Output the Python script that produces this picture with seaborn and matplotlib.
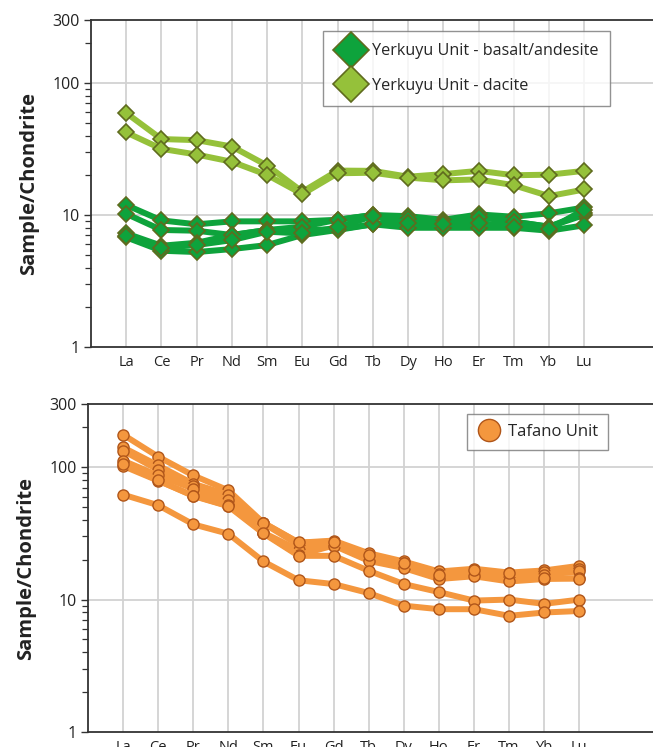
import pandas as pd
import matplotlib.pyplot as plt
import seaborn as sns
import numpy as np
from matplotlib.lines import Line2D
from matplotlib.ticker import LogLocator, NullFormatter, FixedLocator, FixedFormatter

#rare earth elements, chondrite normalised
elements = ['La', 'Ce', 'Pr', 'Nd', 'Sm', 'Eu', 'Gd', 'Tb', 'Dy', 'Ho', 'Er', 'Tm', 'Yb', 'Lu']

#Yerkuyu unit - basalt/andesite samples
ba_1 = [11.9, 9.1, 8.5, 8.95, 8.95, 8.95, 9.2, 10.0, 9.8, 9.2, 10.1, 9.7, 10.3, 11.4]
ba_2 = [10.2, 7.7, 7.6, 7.05, 7.7, 7.7, 7.8, 8.5, 9.2, 8.3, 9.6, 8.9, 8.15, 10.0]
ba_3 = [7.25, 5.85, 6.16, 7.05, 7.7, 8.15, 9.2, 10.0, 9.4, 8.9, 8.15, 8.9, 8.15, 10.3]
ba_4 = [6.77, 5.36, 5.24, 5.52, 5.92, 7.05, 7.7, 8.5, 8.0, 8.0, 8.0, 8.0, 7.6, 8.35]
ba_5 = [6.9, 5.65, 5.92, 6.45, 7.47, 7.25, 8.05, 9.8, 8.65, 8.5, 8.7, 8.15, 7.8, 11.0]

#Yerkuyu unit - dacite samples
dac_1 = [59.2, 37.6, 36.9, 33.0, 23.7, 15.0, 21.7, 21.6, 19.5, 20.4, 21.6, 20.0, 20.2, 21.6]
dac_2 = [42.2, 31.7, 28.7, 25.3, 20.1, 14.4, 20.7, 20.9, 19.2, 18.3, 18.6, 16.8, 13.9, 15.6]

#Tafano unit samples
taf_1 = [176, 120, 86.6, 66.8, 38.0, 26.9, 27.9, 22.4, 19.4, 16.3, 17.1, 16.0, 16.6, 18.0]
taf_2 = [141, 103, 75.0, 62.0, 37.6, 25.9, 26.3, 21.4, 18.8, 15.7, 16.1, 15.4, 16.1, 17.0]
taf_3 = [133, 95.5, 71.6, 56.2, 32.0, 23.7, 25.6, 20.5, 18.0, 15.0, 15.4, 14.5, 15.4, 16.3]
taf_4 = [112, 86.6, 68.8, 51.6, 32.0, 21.7, 25.6, 19.6, 17.3, 14.3, 15.0, 13.7, 14.3, 14.5]
taf_5 = [102, 79.0, 61.0, 51.0, 38.0, 27.0, 27.4, 21.8, 18.8, 15.4, 16.8, 15.8, 14.5, 14.4]
taf_6 = [106, 79.4, 60.6, 50.7, 31.6, 21.4, 21.4, 16.5, 13.1, 11.4, 9.83, 10.0, 9.28, 10.0]
taf_7 = [62.0, 51.6, 37.0, 31.4, 19.4, 14.0, 13.1, 11.2, 9.0, 8.46, 8.46, 7.54, 7.99, 8.2]


def to_long(samples):
    rows = []
    for name, vals in samples.items():
        for i, v in enumerate(vals):
            rows.append({'sample': name, 'pos': i, 'value': v})
    return pd.DataFrame(rows)


ba_df = to_long({'b1': ba_1, 'b2': ba_2, 'b3': ba_3, 'b4': ba_4, 'b5': ba_5})
dac_df = to_long({'d1': dac_1, 'd2': dac_2})
taf_df = to_long({'t1': taf_1, 't2': taf_2, 't3': taf_3, 't4': taf_4,
                  't5': taf_5, 't6': taf_6, 't7': taf_7})

sns.set_theme(style='white')
plt.rcParams['font.family'] = ['Open Sans', 'DejaVu Sans']

dark_green = '#0ea33c'
light_green = '#95c13a'
green_edge = '#5f6b1e'
orange = '#f4973e'
orange_edge = '#b0561a'
grid_c = '#d2d2d2'

fig = plt.figure(figsize=(6.53, 7.47), dpi=100)
ax1 = fig.add_axes([91 / 653, 1 - 347 / 747, 562 / 653, 327 / 747])
ax2 = fig.add_axes([88 / 653, 1 - 732 / 747, 565 / 653, 328 / 747])

#top chart, yerkuyu unit
sns.lineplot(data=dac_df, x='pos', y='value', units='sample', estimator=None, ax=ax1,
             color=light_green, lw=4.3, marker='D', markersize=8.5,
             markerfacecolor=light_green, markeredgecolor=green_edge, markeredgewidth=1.2, zorder=3)
sns.lineplot(data=ba_df, x='pos', y='value', units='sample', estimator=None, ax=ax1,
             color=dark_green, lw=4.3, marker='D', markersize=8.5,
             markerfacecolor=dark_green, markeredgecolor=green_edge, markeredgewidth=1.2, zorder=3)

#bottom chart, tafano unit
sns.lineplot(data=taf_df, x='pos', y='value', units='sample', estimator=None, ax=ax2,
             color=orange, lw=4.3, marker='o', markersize=8,
             markerfacecolor=orange, markeredgecolor=orange_edge, markeredgewidth=1.0, zorder=3)

for ax, xmax in [(ax1, 14.95), (ax2, 15.1)]:
    ax.set_yscale('log')
    ax.set_ylim(1, 300)
    ax.set_xlim(-1, xmax)
    ax.yaxis.set_major_locator(FixedLocator([1, 10, 100, 300]))
    ax.yaxis.set_major_formatter(FixedFormatter(['1', '10', '100', '300']))
    ax.yaxis.set_minor_locator(LogLocator(base=10, subs=np.arange(2, 10)))
    ax.yaxis.set_minor_formatter(NullFormatter())
    ax.set_xticks(range(len(elements)))
    ax.set_xticklabels(elements, fontsize=10.5, color='#222222')
    ax.tick_params(axis='x', length=0, pad=6)
    ax.tick_params(axis='y', which='major', direction='out', length=5, width=1, color='#333333',
                   labelsize=11.5, pad=3, labelcolor='#222222', left=True)
    ax.tick_params(axis='y', which='minor', direction='out', length=4, width=0.9, color='#333333', left=True)
    for v in [10, 100]:
        ax.axhline(v, color=grid_c, lw=1.3, zorder=0)
    for i in range(len(elements)):
        ax.axvline(i, color=grid_c, lw=1.3, zorder=0)
    ax.set_xlabel('')
    ax.set_ylabel('Sample/Chondrite', fontsize=14.5, fontweight='bold', color='#222222', labelpad=10)
    for s in ['left', 'bottom', 'top']:
        ax.spines[s].set_color('#333333')
        ax.spines[s].set_linewidth(1.3)
    ax.spines['right'].set_visible(False)

h1 = [Line2D([], [], ls='none', marker='D', markersize=18, markerfacecolor=dark_green,
             markeredgecolor=green_edge, markeredgewidth=1.2),
      Line2D([], [], ls='none', marker='D', markersize=18, markerfacecolor=light_green,
             markeredgecolor=green_edge, markeredgewidth=1.2)]
leg1 = ax1.legend(h1, ['Yerkuyu Unit - basalt/andesite', 'Yerkuyu Unit - dacite'],
                  loc='upper right', bbox_to_anchor=(0.924, 0.966), fontsize=11.6, frameon=True,
                  fancybox=False, edgecolor='#777777', handletextpad=0.3, borderpad=0.75,
                  labelspacing=1.15, handlelength=2.0, borderaxespad=0)
leg1.get_frame().set_linewidth(1.0)

h2 = [Line2D([], [], ls='none', marker='o', markersize=16, markerfacecolor=orange,
             markeredgecolor=orange_edge, markeredgewidth=1.0)]
leg2 = ax2.legend(h2, ['Tafano Unit'], loc='upper right', bbox_to_anchor=(0.92, 0.97),
                  fontsize=12, frameon=True, fancybox=False, edgecolor='#777777',
                  handletextpad=0.45, borderpad=0.6, handlelength=1.4, borderaxespad=0)
leg2.get_frame().set_linewidth(1.0)

plt.savefig('out.png', dpi=100)
